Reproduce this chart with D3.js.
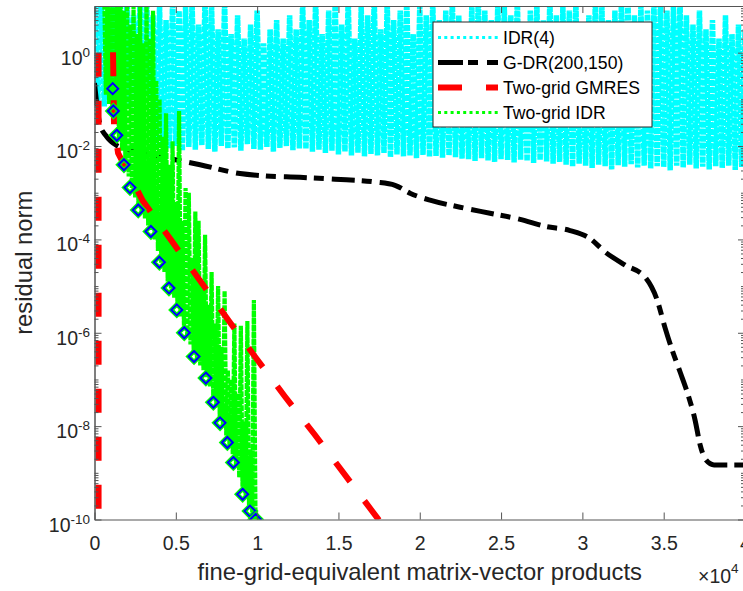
<!DOCTYPE html>
<html>
<head>
<meta charset="utf-8">
<script src="https://cdn.jsdelivr.net/npm/d3@7"></script>
<style>
  body { margin: 0; background: #fff; }
  svg { display: block; font-family: "Liberation Sans", Arial, sans-serif; }
</style>
</head>
<body>
<svg id="chart"></svg>
<script>
// x values are in units of 1e4 matvecs, residuals stored as log10 exponents
const xTicks = [0, 0.5, 1, 1.5, 2, 2.5, 3, 3.5, 4];
const yTickExps = [0, -2, -4, -6, -8, -10];
const legendLabels = ["IDR(4)", "G-DR(200,150)", "Two-grid GMRES", "Two-grid IDR"];

// IDR(4): oscillating residual, one peak / one trough per bin
const idrStep = 0.04;
const idrPeakLog = [1.2, 1.1, 0.9, 1.2, 1.0, 1.2, 0.8, 1.1, 1.2,
  0.8, 1.0, 0.7, 1.1, 0.9, 1.0,
  1.1, 0.6, 1.2, 1.0, 0.5, 1.1,
  0.4, 0.8, 0.3, 0.6, 0.9, 0.2, 0.5, 0.7, 0.3, 0.8, 0.5,
  1.1, 0.7, 1.2, 0.4, 0.9, 1.1, 0.6, 1.2, 0.3, 1.0, 0.8, 1.2, 0.5, 1.1, 0.7, 0.9, 1.2, 0.4, 1.0, 0.8,
  1.1, 0.7, 0.9, 1.2, 0.8, 0.6, 1.0, 1.2, 0.9, 0.7, 1.1, 1.0, 0.8, 1.2, 0.6, 0.9, 1.1, 0.7, 1.2, 0.8,
  1.0, 0.9, 1.1, 0.6, 0.8, 1.2, 1.0, 0.7, 0.9, 1.1, 1.2, 0.8, 1.0, 0.9,
  1.1, 1.2, 0.9, 1.0, 1.2, 0.8, 0.6, 0.9, 0.5, 0.7, 0.3, 0.8, 0.4, 0.6, 0.5];
const idrLowLog = [-1.10, -1.15, -1.05, -1.20, -1.12, -1.18, -1.10, -1.22, -0.95,
  -1.95, -1.95, -2.05, -2.00, -2.10, -2.02,
  -2.08, -1.98, -2.06, -2.12, -2.00, -2.05,
  -2.03, -2.10, -1.96, -2.06, -2.08, -2.02, -2.12, -2.04, -2.00, -2.09, -2.05,
  -2.06, -2.12, -2.08, -2.15, -2.10, -2.18, -2.12, -2.20, -2.14, -2.22, -2.17, -2.20, -2.15, -2.24, -2.18, -2.22, -2.20, -2.26, -2.19, -2.23,
  -2.21, -2.25, -2.20, -2.24, -2.27,
  -2.28, -2.32, -2.26, -2.31, -2.34, -2.28, -2.30, -2.35, -2.29, -2.32, -2.36, -2.30, -2.33, -2.38, -2.34,
  -2.40, -2.44, -2.38, -2.42, -2.47, -2.40, -2.43, -2.50, -2.41, -2.44, -2.39, -2.46, -2.42, -2.48,
  -2.43, -2.45, -2.52, -2.42, -2.46, -2.40, -2.48, -2.44, -2.50, -2.43, -2.47, -2.42, -2.51, -2.45, -2.44];

// G-DR(200,150)
const gdrX = [0, 0.034, 0.071, 0.138, 0.280, 0.434, 0.649, 0.895, 1.049, 1.264, 1.479, 1.725, 1.848, 1.940,
  2.063, 2.248, 2.432, 2.617, 2.771, 2.924, 3.047, 3.140, 3.263, 3.386, 3.460, 3.509, 3.552, 3.601,
  3.650, 3.693, 3.724, 3.761, 3.810, 4.0];
const gdrLog = [-0.65, -1.55, -1.78, -1.99, -2.14, -2.25, -2.40, -2.59, -2.64, -2.67, -2.71, -2.77, -2.84, -3.01,
  -3.16, -3.31, -3.44, -3.57, -3.72, -3.81, -3.98, -4.27, -4.55, -4.81, -5.30, -5.90, -6.37, -6.84,
  -7.33, -7.87, -8.40, -8.73, -8.83, -8.83];

// Two-grid GMRES (coarse solve, then fine-grid phase); NaN breaks the line
const gmresX = [0.025, 0.025, NaN, 0.114, 0.120, 0.145, 0.298, 0.470, 0.821, 0.993, 1.172, 1.356, 1.744, 1.80];
const gmresLog = [0.0, -11.0, NaN, 0.01, -1.55, -2.15, -3.18, -4.01, -5.72, -6.54, -7.37, -8.19, -9.99, -10.3];

// Two-grid IDR: oscillating residual per bin
const tgStart = 0.06, tgStep = 0.02;
const tgPeakLog = [1.2, 1.2, 1.1, 1.2, 1.0, 1.2, 0.9, 1.1, 0.6, 1.0, 0.4, 1.0, 0.2, 1.0, 0.3, 0.9,
  -0.6, -1.0, -1.8, -1.3, -2.4, -1.9, -3.2, -1.25, -3.6, -2.9, -3.0, -4.4, -3.4, -3.6, -4.9, -3.9,
  -5.4, -4.7, -5.8, -5.0, -6.3, -5.1, -6.8, -7.0, -5.8, -7.3, -5.85, -7.9, -5.75, -8.5, -5.3, -9.9];
const tgLowLog = [-0.9, -1.1, -1.2, -1.4, -1.85, -2.1, -2.4, -2.65, -2.9, -3.1, -3.3, -3.45, -3.55, -3.7, -3.8, -4.0,
  -4.25, -4.5, -4.7, -4.9, -5.05, -5.25, -5.45, -5.65, -5.85, -6.05, -6.25, -6.4, -6.55, -6.7, -6.8, -6.95,
  -7.15, -7.35, -7.6, -7.8, -8.0, -8.2, -8.4, -8.6, -8.85, -9.1, -9.3, -9.5, -9.7, -9.85, -10.0, -10.3];

// outer-iteration markers of two-grid IDR
const diamondX = [0.112, 0.116, 0.137, 0.181, 0.218, 0.269, 0.347, 0.399, 0.458, 0.506,
  0.552, 0.612, 0.685, 0.731, 0.772, 0.817, 0.854, 0.911, 0.956, 0.991];
const diamondLog = [-0.77, -1.25, -1.77, -2.40, -2.89, -3.37, -3.83, -4.49, -5.04, -5.51,
  -6.00, -6.51, -6.97, -7.49, -7.93, -8.35, -8.78, -9.46, -9.82, -10.0];

const W = 743, H = 591;
const margin = {left: 94.5, right: 745, top: 6, bottom: 519.5};
const axisColor = '#555';
const textColor = '#262626';

const svg = d3.select('#chart').attr('width', W).attr('height', H);
svg.append('rect').attr('width', W).attr('height', H).attr('fill', '#fff');

const x = d3.scaleLinear().domain([0, 4]).range([margin.left, margin.right]);
const y = d3.scaleLog().domain([1e-10, 1e1]).range([margin.bottom, margin.top]);

svg.append('clipPath').attr('id', 'plotClip')
  .append('rect')
  .attr('x', margin.left).attr('y', margin.top)
  .attr('width', margin.right - margin.left).attr('height', margin.bottom - margin.top);

const plot = svg.append('g').attr('clip-path', 'url(#plotClip)');

// build point lists
const idrPts = [];
idrPeakLog.forEach((v, i) => {
  idrPts.push([i * idrStep, v]);
  idrPts.push([i * idrStep + idrStep / 2, idrLowLog[i]]);
});
const tgPts = [];
tgPeakLog.forEach((v, i) => {
  tgPts.push([tgStart + i * tgStep, v]);
  tgPts.push([tgStart + i * tgStep + tgStep / 2, tgLowLog[i]]);
});
const gdrPts = gdrX.map((d, i) => [d, gdrLog[i]]);
const gmresPts = gmresX.map((d, i) => [d, gmresLog[i]]);

const line = d3.line()
  .defined(d => !isNaN(d[0]))
  .x(d => x(d[0]))
  .y(d => y(Math.pow(10, d[1])));

plot.append('path').datum(idrPts)
  .attr('d', line).attr('fill', 'none')
  .attr('stroke', '#00ffff').attr('stroke-width', 5.5)
  .attr('stroke-linejoin', 'bevel')
  .attr('stroke-dasharray', '6,1');

plot.append('path').datum(gdrPts)
  .attr('d', line.curve(d3.curveMonotoneX)).attr('fill', 'none')
  .attr('stroke', '#000').attr('stroke-width', 5)
  .attr('stroke-dasharray', '23,7,10,8');
line.curve(d3.curveLinear);

plot.append('path').datum(tgPts)
  .attr('d', line).attr('fill', 'none')
  .attr('stroke', '#00ff00').attr('stroke-width', 4.2)
  .attr('stroke-linejoin', 'bevel')
  .attr('stroke-dasharray', '6,1');

plot.append('path').datum(gmresPts)
  .attr('d', line).attr('fill', 'none')
  .attr('stroke', '#ff0000').attr('stroke-width', 6)
  .attr('stroke-dasharray', '24,24');

// diamonds: green outline under a blue one
const r = 5.5;
const diamond = `M0,${-r}L${r},0L0,${r}L${-r},0Z`;
const marks = plot.selectAll('.mark').data(diamondX).join('g')
  .attr('class', 'mark')
  .attr('transform', (d, i) => `translate(${x(d)},${y(Math.pow(10, diamondLog[i]))})`);
marks.append('path').attr('d', diamond).attr('fill', 'none')
  .attr('stroke', '#00ff00').attr('stroke-width', 4.5);
marks.append('path').attr('d', diamond).attr('fill', 'none')
  .attr('stroke', '#0000ff').attr('stroke-width', 2);

// axes
const minorVals = [];
for (let e = -10; e < 1; e++) {
  for (let k = 1; k < 10; k++) {
    const v = k * Math.pow(10, e);
    if (k === 1 && e % 2 === 0) continue;
    minorVals.push(v);
  }
}
const majorVals = yTickExps.map(e => Math.pow(10, e));

function styleAxis(g) {
  g.selectAll('path, line').attr('stroke', axisColor).attr('stroke-width', 1);
  g.selectAll('text').remove();
}

svg.append('g').attr('transform', `translate(0,${margin.bottom})`)
  .call(d3.axisBottom(x).tickValues(xTicks).tickSizeInner(-7).tickSizeOuter(0)
    .tickPadding(17).tickFormat(d => String(d)))
  .call(g => {
    g.selectAll('path, line').attr('stroke', axisColor);
    g.selectAll('text').attr('fill', textColor).attr('font-size', 19.5)
      .attr('font-family', '"Liberation Sans", Arial, sans-serif');
  });
svg.append('g').attr('transform', `translate(0,${margin.top})`)
  .call(d3.axisTop(x).tickValues(xTicks).tickSizeInner(-7).tickSizeOuter(0))
  .call(styleAxis);
svg.append('g').attr('transform', `translate(${margin.left},0)`)
  .call(d3.axisLeft(y).tickValues(majorVals).tickSizeInner(-7).tickSizeOuter(0))
  .call(styleAxis);
svg.append('g').attr('transform', `translate(${margin.left},0)`)
  .call(d3.axisLeft(y).tickValues(minorVals).tickSizeInner(-4).tickSizeOuter(0))
  .call(styleAxis);
svg.append('g').attr('transform', `translate(${margin.right},0)`)
  .call(d3.axisRight(y).tickValues(majorVals).tickSizeInner(-7).tickSizeOuter(0))
  .call(styleAxis);
svg.append('g').attr('transform', `translate(${margin.right},0)`)
  .call(d3.axisRight(y).tickValues(minorVals).tickSizeInner(-4).tickSizeOuter(0))
  .call(styleAxis);

// y tick labels 10^k
yTickExps.forEach(e => {
  const t = svg.append('text')
    .attr('x', 90).attr('y', y(Math.pow(10, e)) + 12)
    .attr('text-anchor', 'end').attr('fill', textColor).attr('font-size', 19.5);
  t.append('tspan').text('10');
  t.append('tspan').attr('dy', -8).attr('font-size', 13.5).text(e);
});

// x multiplier
const mult = svg.append('text').attr('x', 698).attr('y', 583)
  .attr('fill', textColor).attr('font-size', 19.5);
mult.append('tspan').text('\u00d710');
mult.append('tspan').attr('dy', -10).attr('font-size', 13.5).text('4');

// axis titles
svg.append('text')
  .attr('x', (margin.left + margin.right) / 2).attr('y', 580)
  .attr('text-anchor', 'middle').attr('fill', textColor).attr('font-size', 23.8)
  .text('fine-grid-equivalent matrix-vector products');
svg.append('text')
  .attr('transform', `translate(32,${(margin.top + margin.bottom) / 2}) rotate(-90)`)
  .attr('text-anchor', 'middle').attr('fill', textColor).attr('font-size', 23.8)
  .text('residual norm');

// legend
const legend = svg.append('g');
legend.append('rect').attr('x', 433).attr('y', 22).attr('width', 219).attr('height', 105)
  .attr('fill', '#fff').attr('stroke', textColor).attr('stroke-width', 1);
const legendStyles = [
  {color: '#00ffff', width: 3, dash: '3,3.3'},
  {color: '#000', width: 5, dash: '25,5,10,9'},
  {color: '#ff0000', width: 6, dash: '24,24'},
  {color: '#00ff00', width: 3, dash: '3,3.3'}
];
legendLabels.forEach((label, i) => {
  const ly = 37.5 + i * 25;
  legend.append('line').attr('x1', 438).attr('x2', 498).attr('y1', ly).attr('y2', ly)
    .attr('stroke', legendStyles[i].color).attr('stroke-width', legendStyles[i].width)
    .attr('stroke-dasharray', legendStyles[i].dash);
  legend.append('text').attr('x', 503).attr('y', ly + 6.5)
    .attr('fill', '#000').attr('font-size', 17.6).text(label);
});
</script>
</body>
</html>
